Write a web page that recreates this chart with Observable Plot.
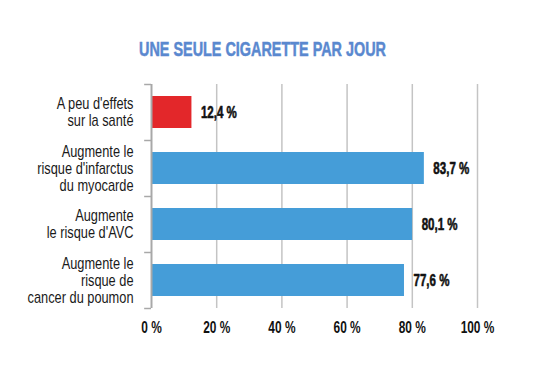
<!DOCTYPE html>
<html>
<head>
<meta charset="utf-8">
<script src="https://cdn.jsdelivr.net/npm/d3@7"></script>
<script src="https://cdn.jsdelivr.net/npm/@observablehq/plot@0.6"></script>
<style>
  html, body { margin: 0; padding: 0; background: #fff; }
  body { width: 537px; height: 389px; overflow: hidden; font-family: "Liberation Sans", Arial, sans-serif; }
  #title { height: 70px; box-sizing: border-box; padding-top: 37px; text-align: center; }
  #title span { display: inline-block; font-size: 20px; line-height: 24px; font-weight: bold; color: #5a88cf;
           -webkit-text-stroke: 0.5px #5a88cf;
           transform: scaleX(0.72); transform-origin: center; position: relative; left: -6px; white-space: nowrap; }
</style>
</head>
<body>
<div id="title"><span>UNE SEULE CIGARETTE PAR JOUR</span></div>
<div id="chart"></div>
<script>
const categories = [
  "A peu d'effets\nsur la santé",
  "Augmente le\nrisque d'infarctus\ndu myocarde",
  "Augmente\nle risque d'AVC",
  "Augmente le\nrisque de\ncancer du poumon"
];
const values = [12.4, 83.7, 80.1, 77.6];
const colors = ["#e3272a", "#459dd8", "#459dd8", "#459dd8"];
const xTicks = [0, 20, 40, 60, 80, 100];
const gridTicks = [20, 40, 60, 80, 100];

const data = categories.map((c, i) => ({category: c, value: values[i], color: colors[i]}));
const fmt = v => v.toLocaleString("fr-FR", {minimumFractionDigits: 1, maximumFractionDigits: 1}) + " %";
const font = "'Liberation Sans', Arial, sans-serif";

const chart = Plot.plot({
  width: 537,
  height: 319,
  marginTop: 14,
  marginBottom: 81,
  marginLeft: 151,
  marginRight: 60,
  style: {fontFamily: font, background: "#fff"},
  x: {domain: [0, 100]},
  y: {domain: categories, paddingInner: 0.43, paddingOuter: 0.215},
  marks: [
    Plot.ruleX(gridTicks, {stroke: "#c4c4c4", strokeWidth: 1.5}),
    Plot.barX(data, {y: "category", x: "value", fill: "color"}),
    Plot.ruleX([0], {stroke: "#a8a8a8", strokeWidth: 2}),
    Plot.ruleY(categories.slice(0, 1), {y: d => d, x1: 0, x2: -2.1, dy: -28, stroke: "#a8a8a8", strokeWidth: 1.5}),
    Plot.ruleY(categories, {y: d => d, x1: 0, x2: -2.1, dy: 28, stroke: "#a8a8a8", strokeWidth: 1.5}),
    Plot.text(data, {y: "category", x: "value", text: d => fmt(d.value), textAnchor: "start", dx: 9,
      fontSize: 17, fontWeight: "bold", fill: "#111", stroke: "#111", strokeWidth: 0.6, className: "vlab"}),
    Plot.axisY({tickSize: 0, tickPadding: 18, fontSize: 16, lineHeight: 1.0625, label: null, fill: "#1a1a1a",
      stroke: "#1a1a1a", strokeWidth: 0.25, className: "ylab"}),
    Plot.axisX(xTicks, {tickSize: 0, tickPadding: 12, fontSize: 17, fontWeight: "bold", label: null,
      tickFormat: d => d + " %", fill: "#111", stroke: "#111", strokeWidth: 0.6, className: "xlab"})
  ]
});
document.getElementById("chart").appendChild(chart);

// condense the text horizontally around its anchor (the reference uses a condensed face)
function condense(sel, s) {
  chart.querySelectorAll(sel).forEach(t => {
    const x = t.getAttribute("x") || 0;
    const tr = t.getAttribute("transform") || "";
    t.setAttribute("transform", `${tr} translate(${x},0) scale(${s},1) translate(${-x},0)`);
  });
}
condense(".vlab text", 0.68);
condense(".ylab text", 0.8);
condense(".xlab text", 0.7);
</script>
</body>
</html>
